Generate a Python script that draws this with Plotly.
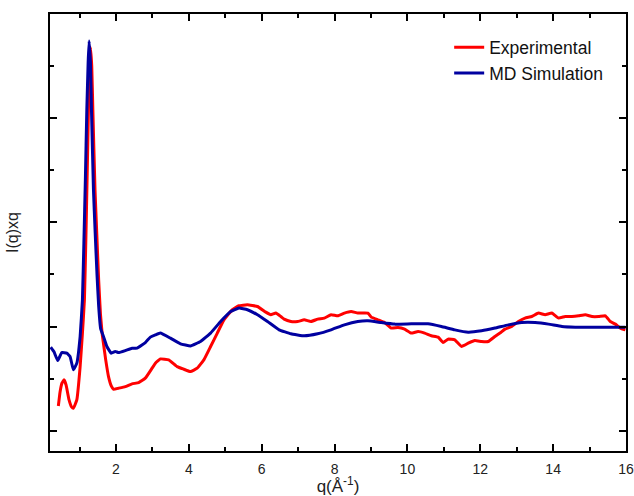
import plotly.graph_objects as go

# Scattering vector q (1/Å) and I(q)*q for the experimental curve
q_exp = [0.419, 0.466, 0.521, 0.576, 0.631, 0.713, 0.782, 0.832, 0.926, 1.017,
         1.080, 1.135, 1.175, 1.210, 1.245, 1.272, 1.300, 1.336, 1.366, 1.425, 1.475,
         1.525, 1.575, 1.625, 1.680, 1.719, 1.796, 1.871, 1.934, 2.072, 2.256, 2.441,
         2.623, 2.807, 2.992, 3.083, 3.220, 3.449, 3.680, 3.862, 4.047, 4.231,
         4.413, 4.598, 4.782, 4.964, 5.196, 5.377, 5.609, 5.884, 6.113, 6.251,
         6.388, 6.526, 6.617, 6.802, 6.986, 7.168, 7.353, 7.537, 7.719, 7.904,
         8.088, 8.270, 8.455, 8.639, 8.915, 9.006, 9.190, 9.372, 9.556, 9.741,
         9.923, 10.107, 10.292, 10.474, 10.658, 10.843, 10.981, 11.118, 11.300, 11.485,
         11.669, 11.851, 12.036, 12.220, 12.402, 12.540, 12.678, 12.862, 13.047, 13.229,
         13.413, 13.598, 13.780, 13.964, 14.149, 14.331, 14.515, 14.700, 14.884, 15.066,
         15.251, 15.433, 15.570, 15.708, 15.846, 15.983]
iq_exp = [-0.763, -0.628, -0.541, -0.512, -0.561, -0.705, -0.772, -0.785, -0.705, -0.385,
          -0.063, 0.257, 0.850, 1.450, 2.084, 2.500, 2.680, 2.500, 2.084, 1.314, 0.880,
          0.450, 0.120, -0.080, -0.220, -0.320, -0.481, -0.570, -0.602, -0.592, -0.577, -0.551,
          -0.538, -0.496, -0.400, -0.352, -0.311, -0.320, -0.385, -0.410, -0.433, -0.400,
          -0.320, -0.192, -0.063, 0.064, 0.161, 0.199, 0.209, 0.192, 0.138, 0.113,
          0.129, 0.096, 0.071, 0.048, 0.048, 0.064, 0.048, 0.071, 0.081, 0.113,
          0.103, 0.129, 0.144, 0.129, 0.129, 0.090, 0.064, 0.038, -0.015, -0.010,
          -0.025, -0.063, -0.048, -0.063, -0.089, -0.102, -0.154, -0.121, -0.128, -0.192,
          -0.160, -0.135, -0.144, -0.144, -0.096, -0.063, -0.025, 0.000, 0.048, 0.081,
          0.096, 0.129, 0.113, 0.129, 0.081, 0.096, 0.096, 0.103, 0.113, 0.096,
          0.096, 0.103, 0.048, 0.023, -0.015, -0.032]

# Molecular dynamics simulation curve
q_md = [0.209, 0.300, 0.402, 0.512, 0.650, 0.741, 0.832, 0.926, 1.017, 1.080,
        1.120, 1.160, 1.201, 1.237, 1.264, 1.300, 1.328, 1.383, 1.430, 1.480,
        1.525, 1.580, 1.658, 1.752, 1.871, 1.981, 2.072, 2.256, 2.441, 2.579, 2.807,
        2.945, 3.083, 3.220, 3.496, 3.771, 4.047, 4.322, 4.598, 4.873, 5.149,
        5.377, 5.609, 5.884, 6.160, 6.479, 6.802, 7.168, 7.537, 7.904, 8.270,
        8.639, 8.915, 9.281, 9.647, 10.107, 10.567, 10.934, 11.300, 11.669, 12.036,
        12.402, 12.771, 13.138, 13.504, 13.873, 14.240, 14.606, 15.066, 15.526, 15.983]
iq_md = [-0.198, -0.243, -0.327, -0.250, -0.256, -0.288, -0.416, -0.352, -0.096, 0.257,
         0.800, 1.400, 2.084, 2.533, 2.740, 2.533, 2.084, 1.314, 0.900, 0.500,
         0.200, -0.020, -0.096, -0.192, -0.256, -0.240, -0.250, -0.231, -0.208, -0.208, -0.154,
         -0.102, -0.080, -0.063, -0.112, -0.166, -0.186, -0.144, -0.063, 0.048, 0.144,
         0.177, 0.161, 0.113, 0.048, -0.032, -0.070, -0.089, -0.070, -0.032, 0.016,
         0.048, 0.055, 0.038, 0.023, 0.026, 0.026, 0.000, -0.032, -0.054, -0.041,
         -0.015, 0.016, 0.038, 0.038, 0.023, 0.000, -0.006, -0.006, -0.006, -0.006]

x_ticks = [2, 4, 6, 8, 10, 12, 14, 16]

FONT = "Liberation Sans, Arial"

fig = go.Figure()
fig.add_trace(go.Scatter(x=q_exp, y=iq_exp, mode="lines", name="Experimental",
                         line=dict(color="rgb(255,0,0)", width=3, shape="spline", smoothing=0.3)))
fig.add_trace(go.Scatter(x=q_md, y=iq_md, mode="lines", name="MD Simulation",
                         line=dict(color="rgb(0,0,160)", width=3, shape="spline", smoothing=0.3)))

axis_common = dict(showline=True, linecolor="black", linewidth=1.5, mirror="ticks",
                   ticks="inside", ticklen=7, tickwidth=1.5, tickcolor="black",
                   showgrid=False, zeroline=False, automargin=False)

fig.update_xaxes(range=[0.19, 16.0], tickvals=x_ticks, ticktext=[str(v) for v in x_ticks],
                 minor=dict(ticks="inside", ticklen=4, tickwidth=1.5, tickcolor="black", dtick=1, tick0=1),
                 tickfont=dict(family=FONT, size=14, color="#222"),
                 ticklabelstandoff=4,
                 title=dict(text="q(Å<sup>-1</sup>)", font=dict(family=FONT, size=17, color="#222"),
                            standoff=8),
                 **axis_common)
fig.update_yaxes(range=[-1.195, 3.0], tick0=0, dtick=1, showticklabels=False,
                 minor=dict(ticks="inside", ticklen=4, tickwidth=1.5, tickcolor="black", dtick=0.5, tick0=0),
                 title=dict(text="I(q)xq", font=dict(family=FONT, size=16, color="#222"),
                            standoff=26),
                 **axis_common)

fig.update_layout(
    width=634, height=496,
    margin=dict(l=50, r=8, t=14, b=45),
    plot_bgcolor="white", paper_bgcolor="white",
    legend=dict(x=0.693, y=0.965, xanchor="left", yanchor="top",
                font=dict(family=FONT, size=17.5, color="#111"),
                bgcolor="rgba(0,0,0,0)", tracegroupgap=0),
    showlegend=True,
)

fig.write_html("out.html")
